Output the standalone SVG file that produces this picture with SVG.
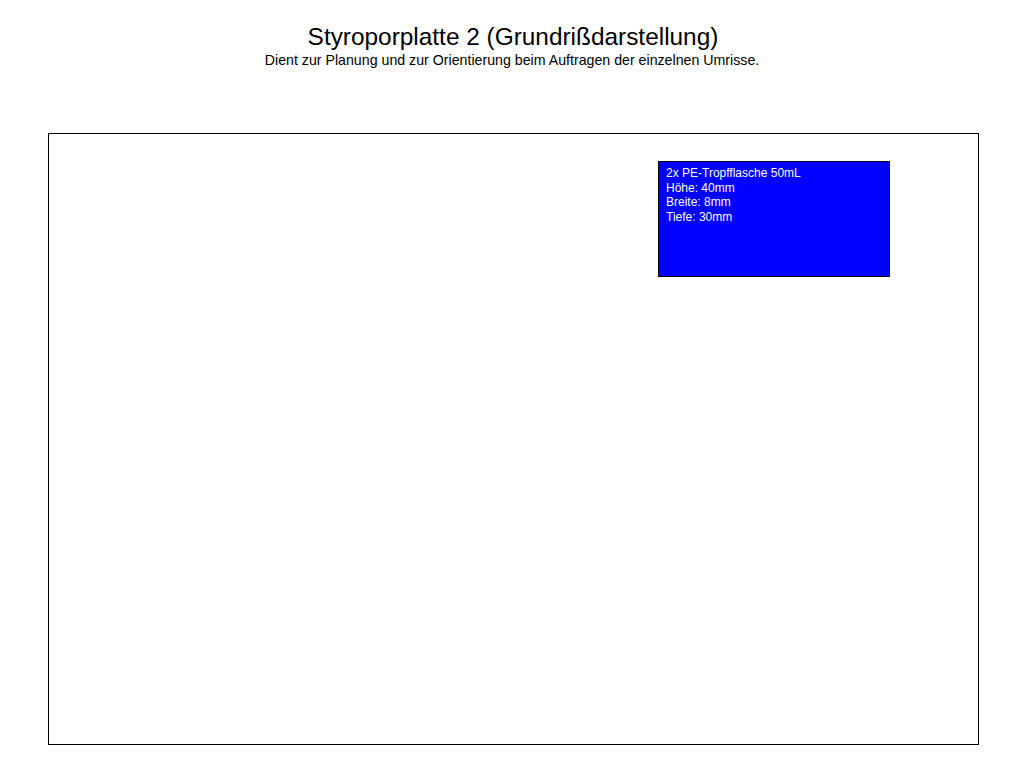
<svg xmlns="http://www.w3.org/2000/svg" width="1024" height="768" viewBox="0 0 1024 768">
<style>
text{font-family:"Liberation Sans",Arial,sans-serif}
.t{font-size:24.4px;fill:#000}
.s{font-size:14.2px;fill:#000}
.b{font-size:12px;fill:#fff}
</style>
<rect width="1024" height="768" fill="#fff"/>
<text class="t" x="513" y="45" text-anchor="middle">Styroporplatte 2 (Grundrißdarstellung)</text>
<text class="s" x="512" y="65" text-anchor="middle">Dient zur Planung und zur Orientierung beim Auftragen der einzelnen Umrisse.</text>
<g id="platte"><rect x="48.5" y="133.5" width="930" height="611" fill="#fff" stroke="#000" stroke-width="1"/></g>
<g id="tropfflasche">
<rect x="658.5" y="161.5" width="231" height="115" fill="#0000ff" stroke="#000" stroke-width="1"/>
<text class="b" x="666" y="177">2x PE-Tropfflasche 50mL</text>
<text class="b" x="666" y="192">Höhe: 40mm</text>
<text class="b" x="666" y="206">Breite: 8mm</text>
<text class="b" x="666" y="221">Tiefe: 30mm</text>
</g>
<g id="connectors"/>
</svg>
